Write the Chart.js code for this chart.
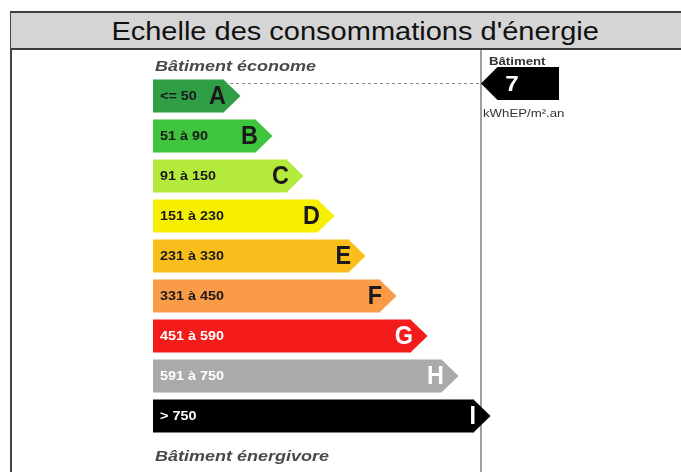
<!DOCTYPE html>
<html>
<head>
<meta charset="utf-8">
<script src="https://cdn.jsdelivr.net/npm/chart.js@4.4.1/dist/chart.umd.min.js"></script>
<style>
body{margin:0;width:681px;height:472px;overflow:hidden;background:#fff;position:relative;font-family:"Liberation Sans",Arial,sans-serif;}
#frameLeft{position:absolute;left:10px;top:11px;width:2px;height:461px;background:#444;}
#head{position:absolute;left:11px;top:11px;width:688px;height:35px;border-top:2px solid #3c3c3c;border-bottom:2px solid #3c3c3c;background:#d5d5d5;text-align:center;line-height:36px;z-index:2;}
#head span{display:inline-block;transform:scaleX(1.16);font-size:25px;color:#111;}
#dpe{position:absolute;left:0;top:0;}
</style>
</head>
<body>
<canvas id="dpe" width="681" height="472"></canvas>
<div id="frameLeft"></div>
<div id="head"><span>Echelle des consommations d'énergie</span></div>
<script>
// ================================
// DPE DATA
// ================================
const classes = ['A','B','C','D','E','F','G','H','I'];
const rangeLabels = ['<= 50','51 à 90','91 à 150','151 à 230','231 à 330','331 à 450','451 à 590','591 à 750','> 750'];
const barLengths = [71,103,134,165,196,227,258,289,321];
const upperBounds = [50,90,150,230,330,450,590,750];
const barColors = ['#2f9e45','#3ec43d','#b4ea3c','#f6ef00','#f9bd1c','#f99b47','#f41b1b','#aaaaaa','#000000'];
const textColors = ['#1a1a1a','#1a1a1a','#1a1a1a','#1a1a1a','#1a1a1a','#1a1a1a','#ffffff','#ffffff','#ffffff'];
const buildingValue = 7;
const unitLabel = 'kWhEP/m².an';

const FONT = '"Liberation Sans", Arial, sans-serif';

function stretchText(ctx, txt, x, y, font, color, align, sx){
  ctx.save();
  ctx.translate(x, y);
  ctx.scale(sx, 1);
  ctx.font = font;
  ctx.fillStyle = color;
  ctx.textAlign = align;
  ctx.textBaseline = 'middle';
  ctx.fillText(txt, 0, 0);
  ctx.restore();
}

function classIndex(v){
  for (let i = 0; i < upperBounds.length; i++) if (v <= upperBounds[i]) return i;
  return upperBounds.length;
}

const dpePlugin = {
  id: 'dpe',
  beforeDatasetsDraw(chart){
    const ctx = chart.ctx, area = chart.chartArea;
    const bars = chart.getDatasetMeta(0).data;
    // right panel separator
    ctx.save();
    ctx.strokeStyle = '#a0a0a0';
    ctx.lineWidth = 2;
    ctx.beginPath();
    ctx.moveTo(area.right, 48);
    ctx.lineTo(area.right, chart.height);
    ctx.stroke();
    // dotted guide to the building marker
    const b = bars[classIndex(buildingValue)];
    const yMark = b.y - 12.5;
    ctx.strokeStyle = '#8a8a8a';
    ctx.lineWidth = 1;
    ctx.setLineDash([3,3]);
    ctx.beginPath();
    ctx.moveTo(b.x, yMark);
    ctx.lineTo(area.right, yMark);
    ctx.stroke();
    ctx.restore();
  },
  afterDatasetsDraw(chart){
    const ctx = chart.ctx, area = chart.chartArea;
    const bars = chart.getDatasetMeta(0).data;
    bars.forEach((bar, i) => {
      const h = bar.height;
      // arrow tip
      ctx.fillStyle = barColors[i];
      ctx.beginPath();
      ctx.moveTo(bar.x - 0.5, bar.y - h/2);
      ctx.lineTo(bar.x + h/2, bar.y);
      ctx.lineTo(bar.x - 0.5, bar.y + h/2);
      ctx.closePath();
      ctx.fill();
      stretchText(ctx, rangeLabels[i], bar.base + 7, bar.y + 1, 'bold 12.5px ' + FONT, textColors[i], 'left', 1.15);
      stretchText(ctx, classes[i], bar.x + 2, bar.y + 1, 'bold 26px ' + FONT, textColors[i], 'right', 0.9);
    });
    const first = bars[0], last = bars[bars.length - 1];
    stretchText(ctx, 'Bâtiment économe', first.base + 2, first.y - first.height/2 - 13, 'italic bold 15px ' + FONT, '#4a4a4a', 'left', 1.2);
    stretchText(ctx, 'Bâtiment énergivore', last.base + 2, last.y + last.height/2 + 24, 'italic bold 15px ' + FONT, '#4a4a4a', 'left', 1.2);

    // building marker
    const b = bars[classIndex(buildingValue)];
    const h = b.height, yc = b.y - 12.5, x0 = area.right;
    ctx.fillStyle = '#000';
    ctx.beginPath();
    ctx.moveTo(x0, yc);
    ctx.lineTo(x0 + h/2, yc - h/2);
    ctx.lineTo(x0 + 78, yc - h/2);
    ctx.lineTo(x0 + 78, yc + h/2);
    ctx.lineTo(x0 + h/2, yc + h/2);
    ctx.closePath();
    ctx.fill();
    stretchText(ctx, String(buildingValue), x0 + 31, yc + 1, 'bold 22px ' + FONT, '#fff', 'center', 1.1);
    stretchText(ctx, 'Bâtiment', x0 + 8, yc - h/2 - 5, 'bold 11px ' + FONT, '#333', 'left', 1.2);
    stretchText(ctx, unitLabel, x0 + 2, yc + h/2 + 14, '11px ' + FONT, '#333', 'left', 1.2);
  }
};

const dpeChart = new Chart(
document.getElementById('dpe'),
{
type: 'bar',
data: {
  labels: classes,
  datasets: [{
    data: barLengths,
    backgroundColor: barColors,
    borderWidth: 0,
    barPercentage: 0.825,
    categoryPercentage: 1
  }]
},
options: {
  indexAxis: 'y',
  responsive: false,
  animation: false,
  devicePixelRatio: 1,
  layout: { padding: { left: 153, right: 200, top: 76, bottom: 36 } },
  scales: {
    x: { display: false, min: 0, max: 328 },
    y: { display: false }
  },
  plugins: {
    legend: { display: false },
    tooltip: { enabled: false },
    title: { display: false }
  }
},
plugins: [dpePlugin]
});
</script>
</body>
</html>
